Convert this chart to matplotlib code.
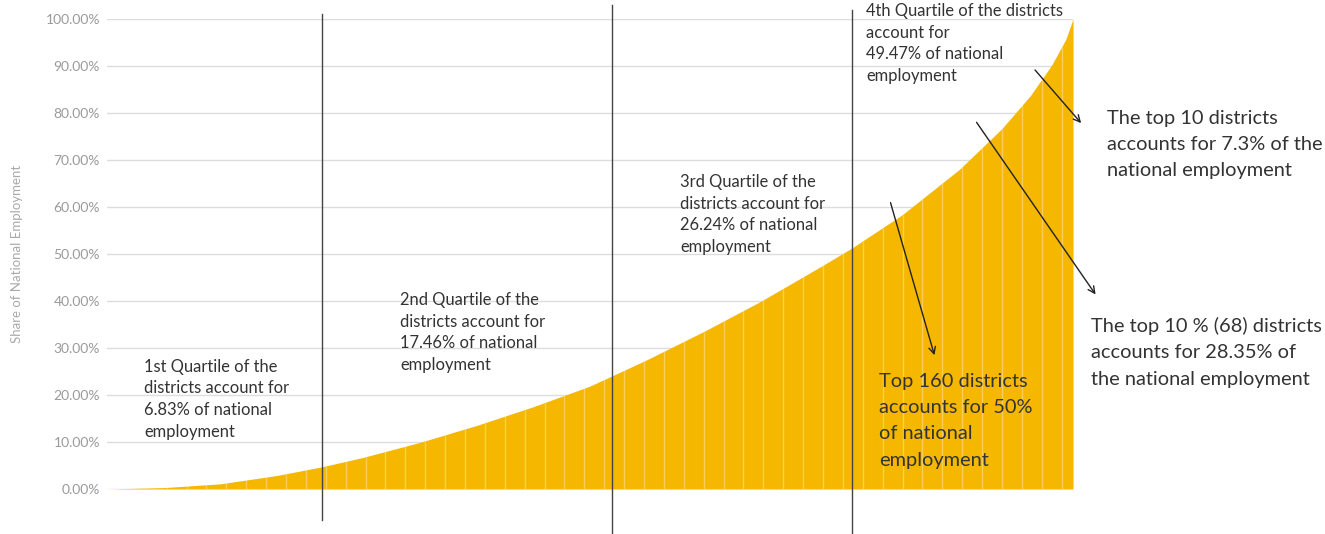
import numpy as np
import matplotlib.pyplot as plt

plt.rcParams["font.family"] = ["Lato", "DejaVu Sans"]

# districts ranked from smallest to largest employer, cumulative share (%)
n_districts = 680
rank = [0, 40, 80, 120, 151, 180, 220, 260, 300, 340, 355, 380,
        420, 460, 500, 524, 560, 600, 630, 650, 665, 675, 680]
cum_share = [0.0, 0.3, 1.1, 2.9, 4.7, 6.7, 9.9, 13.5, 17.5, 21.9, 24.0, 27.5,
             33.5, 39.9, 46.9, 51.2, 58.4, 68.0, 76.7, 83.7, 90.2, 95.7, 100.0]

# boundaries drawn between the quartile groups
quartile_edges = [151, 355.5, 524.4]

quartile_notes = [
    "1st Quartile of the\ndistricts account for\n6.83% of national\nemployment",
    "2nd Quartile of the\ndistricts account for\n17.46% of national\nemployment",
    "3rd Quartile of the\ndistricts account for\n26.24% of national\nemployment",
    "4th Quartile of the districts\naccount for\n49.47% of national\nemployment",
]
top_notes = [
    "Top 160 districts\naccounts for 50%\nof national\nemployment",
    "The top 10 % (68) districts\naccounts for 28.35% of\nthe national employment",
    "The top 10 districts\naccounts for 7.3% of the\nnational employment",
]

BAR = "#F5B700"
TXT = "#333333"

fig = plt.figure(figsize=(13.25, 5.34), dpi=100)
ax = fig.add_axes([107 / 1325, 45 / 534, 966 / 1325, 470 / 534])

x = np.array(rank, dtype=float)
y = np.array(cum_share)
ax.fill_between(x, 0, y, color=BAR, linewidth=0, zorder=2)

# faint column separators inside the filled area
cols = np.arange(14, n_districts, 14)
ax.vlines(cols, 0, np.interp(cols, x, y), color="white", alpha=0.35, lw=1, zorder=3)

ax.set_xlim(0, n_districts)
ax.set_ylim(0, 100)
ax.set_yticks(np.arange(0, 101, 10))
ax.set_yticklabels([f"{v:.2f}%" for v in np.arange(0, 101, 10)])
ax.set_xticks([])
ax.tick_params(axis="y", length=0, pad=5, labelsize=10, labelcolor="#9a9a9a")
ax.grid(axis="y", color="#dddddd", lw=1, zorder=0)
for s in ax.spines.values():
    s.set_visible(False)
ax.set_ylabel("Share of National Employment", fontsize=9.5, color="#aaaaaa", labelpad=16)

# quartile dividers run past the plotting area
ax.plot([quartile_edges[0]] * 2, [-6.6, 101.1], color="#444444", lw=1, clip_on=False, zorder=4)
ax.plot([quartile_edges[1]] * 2, [-9.6, 103.0], color="#444444", lw=1, clip_on=False, zorder=4)
ax.plot([quartile_edges[2]] * 2, [-9.6, 102.0], color="#444444", lw=1, clip_on=False, zorder=4)

note_pos = [(26.0, 27.7), (206.3, 41.9), (403.3, 67.0), (534.3, 103.4)]
for (tx, ty), txt in zip(note_pos, quartile_notes):
    ax.text(tx, ty, txt, fontsize=11.9, color=TXT, va="top", ha="left",
            linespacing=1.43, clip_on=False, zorder=5)

top_pos = [(543.4, 24.7), (692.7, 36.6), (703.9, 80.7)]
for (tx, ty), txt in zip(top_pos, top_notes):
    ax.text(tx, ty, txt, fontsize=14.4, color=TXT, va="top", ha="left",
            linespacing=1.66, clip_on=False, zorder=5)

arrows = [((551, 61.5), (583, 27.9)),
          ((611, 78.5), (697, 40.9)),
          ((652, 89.6), (687, 77.4))]
for start, end in arrows:
    ax.annotate("", xy=end, xytext=start, annotation_clip=False,
                arrowprops=dict(arrowstyle="->", color="#222222", lw=1, mutation_scale=12),
                zorder=6)

fig.savefig("out.png", dpi=100)
